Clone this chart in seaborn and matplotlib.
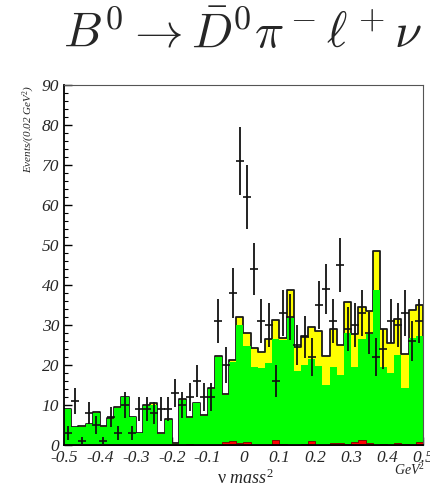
import numpy as np
import pandas as pd
import matplotlib
matplotlib.use("Agg")
import matplotlib.pyplot as plt
from matplotlib.ticker import MultipleLocator, FixedLocator
import seaborn as sns

# nu mass^2 histogram (GeV^2): 50 bins, 0.02 wide, from -0.5 to 0.5
n_bins = 50
x_range = (-0.5, 0.5)
edges = np.linspace(x_range[0], x_range[1], n_bins + 1)
centers = (edges[:-1] + edges[1:]) / 2

# stacked MC contributions, read as cumulative heights per bin
total_yellow = [9.0, 4.6, 4.7, 5.3, 8.2, 4.7, 6.7, 9.4, 12.0, 7.0,
                3.0, 9.9, 10.4, 2.9, 6.4, 0.5, 11.4, 6.9, 10.5, 7.5,
                14.3, 22.3, 12.8, 21.2, 31.9, 27.9, 24.3, 23.2, 26.4, 31.3,
                26.7, 38.8, 24.4, 27.3, 29.6, 28.6, 22.3, 29.1, 25.0, 35.8,
                27.8, 34.4, 33.6, 48.4, 28.9, 25.4, 31.4, 22.8, 33.8, 35.1]
green = [8.9, 4.4, 4.6, 5.2, 7.9, 4.6, 6.6, 9.3, 11.9, 6.9,
         2.9, 9.8, 10.1, 2.7, 6.3, 0.3, 11.2, 6.8, 10.4, 7.2,
         14.1, 21.9, 12.4, 20.8, 30.1, 24.8, 19.6, 19.2, 20.5, 26.4,
         26.2, 31.7, 18.6, 20.0, 21.4, 19.8, 15.0, 19.6, 17.5, 27.9,
         19.6, 26.4, 27.8, 38.8, 19.6, 18.1, 22.5, 14.3, 26.7, 27.3]
red = [0, 0, 0, 0, 0, 0, 0, 0, 0, 0,
       0, 0, 0, 0, 0, 0, 0, 0.3, 0, 0,
       0, 0, 0.8, 1.0, 0.5, 0.8, 0, 0, 0, 1.3,
       0.3, 0, 0, 0.3, 1.0, 0, 0, 0.5, 0.5, 0.3,
       0.7, 1.2, 0.6, 0, 0.3, 0, 0.5, 0.2, 0, 0.7]

# data points and their errors
data_counts = [3, 11, 1, 8, 5, 1, 7, 3, 10, 3,
               9, 9, 8, 9, 9, 13, 10, 12, 16, 12,
               12, 31, 20, 38, 71, 62, 44, 31, 30, 16,
               33, 32, 25, 27, 22, 35, 39, 31, 45, 29,
               30, 33, 28, 22, 24, 31, 30, 33, 26, 31]
data_errors = [1.7, 3.3, 1.0, 2.8, 2.2, 1.0, 2.6, 1.7, 3.2, 1.7,
               3.0, 3.0, 2.8, 3.0, 3.0, 3.6, 3.2, 3.5, 4.0, 3.5,
               3.5, 5.6, 4.5, 6.2, 8.4, 7.9, 6.6, 5.6, 5.5, 4.0,
               5.7, 5.7, 5.0, 5.2, 4.7, 5.9, 6.2, 5.6, 6.7, 5.4,
               5.5, 5.7, 5.3, 4.7, 4.9, 5.6, 5.5, 5.7, 5.1, 5.6]

x_ticks = [-0.5, -0.4, -0.3, -0.2, -0.1, 0.0, 0.1, 0.2, 0.3, 0.4, 0.5]
x_tick_labels = ["-0.5", "-0.4", "-0.3", "-0.2", "-0.1", "0",
                 "0.1", "0.2", "0.3", "0.4", "0.5"]
y_ticks = [0, 10, 20, 30, 40, 50, 60, 70, 80, 90]

df = pd.DataFrame({"m2": centers, "total": total_yellow, "green": green,
                   "red": red, "data": data_counts, "err": data_errors})

sns.set_style("ticks")
plt.rcParams["font.family"] = ["Liberation Serif", "DejaVu Serif"]
plt.rcParams["mathtext.fontset"] = "custom"
plt.rcParams["mathtext.rm"] = "Liberation Serif"
plt.rcParams["mathtext.it"] = "Liberation Serif:italic"
plt.rcParams["axes.unicode_minus"] = False

fig = plt.figure(figsize=(4.31, 4.88), dpi=100)
ax = fig.add_axes([0.1485, 0.0881, 0.8329, 0.7377])

layers = [("total", "#ffff00", "#1a1a1a", 1.3),
          ("green", "#00ff00", "none", 0),
          ("red", "#ff0000", "#7a0000", 0.6)]
for col, face, edge, lw in layers:
    sns.histplot(data=df, x="m2", weights=col, bins=n_bins, binrange=x_range,
                 element="step", fill=True, color=face, alpha=1,
                 edgecolor=edge, linewidth=lw, ax=ax)

ax.errorbar(df["m2"], df["data"], yerr=df["err"], fmt="_", color="#111111",
            ms=6, mew=1.2, elinewidth=1.3, capsize=0, zorder=5)

ax.set_xlim(*x_range)
ax.set_ylim(0, 90)
ax.set_axisbelow(True)
ax.xaxis.set_major_locator(FixedLocator(x_ticks))
ax.set_xticklabels(x_tick_labels)
ax.xaxis.set_minor_locator(MultipleLocator(0.02))
ax.yaxis.set_major_locator(FixedLocator(y_ticks))
ax.yaxis.set_minor_locator(MultipleLocator(2))
ax.tick_params(which="both", direction="in", top=False, right=False,
               labelsize=12.5, color="black")
ax.tick_params(which="major", length=6, width=1)
ax.tick_params(which="minor", length=3, width=0.8)
for lbl in ax.get_xticklabels() + ax.get_yticklabels():
    lbl.set_fontstyle("italic")

for side in ["left", "bottom"]:
    ax.spines[side].set_linewidth(1.3)
    ax.spines[side].set_color("black")
for side in ["top", "right"]:
    ax.spines[side].set_visible(True)
    ax.spines[side].set_linewidth(0.8)
    ax.spines[side].set_color("#555555")

ax.set_ylabel("Events/(0.02 GeV$^2$)", fontstyle="italic", fontsize=8)
ax.yaxis.set_label_coords(-0.075, 1.0)
ax.yaxis.label.set_horizontalalignment("right")
ax.set_xlabel("ν $mass^2$", fontsize=13)
ax.xaxis.set_label_coords(0.505, -0.065)

fig.text(0.951, 0.037, "GeV$^2$", fontstyle="italic", fontsize=10,
         ha="center", va="center")
fig.text(0.562, 0.93, r"$B^0 \rightarrow \bar{D}^0\pi^-\ell^+\nu$",
         fontsize=35, ha="center", va="center", math_fontfamily="cm")

fig.savefig("out.png", dpi=100)
